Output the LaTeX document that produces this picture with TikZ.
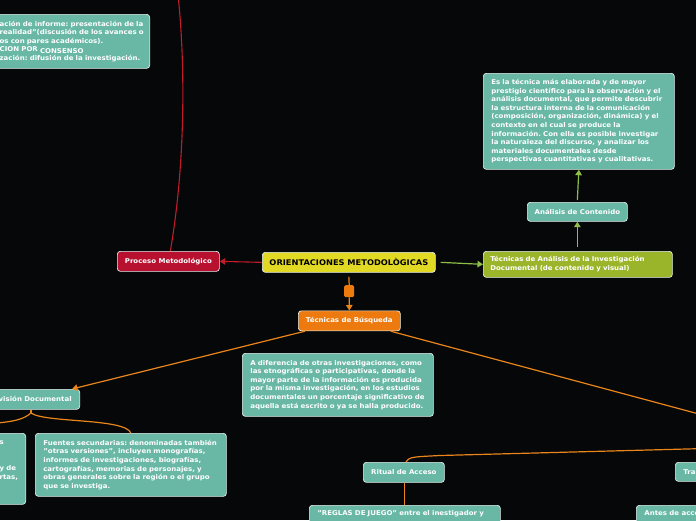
\documentclass[tikz,border=0pt]{standalone}
\usepackage{fontspec}
\setmainfont[FakeStretch=1.06]{DejaVu Sans}
\usetikzlibrary{arrows.meta}
\definecolor{bg}{HTML}{060709}
\definecolor{teal1}{HTML}{69B8A6}
\definecolor{bline}{HTML}{E4EFEC}
\definecolor{crimson}{HTML}{B8102F}
\definecolor{yellow1}{HTML}{E2D924}
\definecolor{olive}{HTML}{9BB52B}
\definecolor{orangebox}{HTML}{EC7A0F}
\definecolor{oline}{HTML}{E9851A}
\definecolor{gline}{HTML}{8DBF48}
\definecolor{rline}{HTML}{C11B2C}
\newcommand\fs{\fontsize{6.6}{8.6}\selectfont\bfseries\frenchspacing}
\newcommand\fb{\fontsize{7.8}{9}\selectfont\bfseries\frenchspacing}
\begin{document}
\begin{tikzpicture}[x=1pt,y=-1pt,
  box/.style={draw=bline, line width=0.7pt, rounded corners=3pt, fill=teal1,
    text=white, font=\fs, inner sep=0pt, anchor=north west, align=left},
  tipa/.style={-{Triangle[width=6.5pt,length=5.5pt]}},
  ol/.style={draw=oline, line width=1.2pt},
  gl/.style={draw=gline, line width=1.2pt},
  rl/.style={draw=rline, line width=1.1pt}]
\useasboundingbox (0,0) rectangle (696,520);
\fill[bg] (0,0) rectangle (696,520);
\clip (0,0) rectangle (696,520);

% off-canvas coordinates
\coordinate (offR) at (900,468);
\coordinate (offR2) at (800,446);
\coordinate (offL) at (-60,428);
\coordinate (offT) at (178,-5);
\coordinate (jr) at (31,413);

% nodes
\node[box, anchor=north east, minimum width=154, minimum height=54, text width=146] (pres) at (150,14)
 {ación de informe: presentación de la\\
  realidad"(discusión de los avances o\\
  os con pares académicos).\\
  CION POR \raisebox{-1.5pt}{CONSENSO}\\
  zación: difusión de la investigación.};

\node[box, minimum width=191, minimum height=96, text width=175] (cont) at (483,73)
 {Es la técnica más elaborada y de mayor\\
  prestigio científico para la observación y el\\
  análisis documental, que permite descubrir\\
  la estructura interna de la comunicación\\
  (composición, organización, dinámica) y el\\
  contexto en el cual se produce la\\
  información. Con ella es posible investigar\\
  la naturaleza del discurso, y analizar los\\
  materiales documentales desde\\
  perspectivas cuantitativas y cualitativas.};

\node[box, minimum width=100, minimum height=19, align=center] (adc) at (527,202) {Análisis de Contenido};

\node[box, fill=olive, minimum width=189, minimum height=26, text width=175] (tad) at (483,251)
 {Técnicas de Análisis de la Investigación\\ Documental (de contenido y visual)};

\node[box, fill=yellow1, text=black, font=\fb, minimum width=173, minimum height=20, align=center] (ori) at (262,252) {ORIENTACIONES METODOLÒGICAS};

\node[box, fill=crimson, minimum width=102, minimum height=20, align=center] (pro) at (117,251) {Proceso Metodológico};

\node[fill=orangebox, rounded corners=1.5pt, minimum width=10, minimum height=12, inner sep=0pt, anchor=north west] (knob) at (344,285) {};

\node[box, fill=orangebox, minimum width=102, minimum height=20, align=center] (tdb) at (298,310.5) {Técnicas de Búsqueda};

\node[box, minimum width=191, minimum height=63, text width=175] (dif) at (242,353)
 {A diferencia de otras investigaciones, como\\
  las etnográficas o participativas, donde la\\
  mayor parte de la información es producida\\
  por la misma investigación, en los estudios\\
  documentales un porcentaje significativo de\\
  aquella está escrito o ya se halla producido.};

\node[box, anchor=north east, inner xsep=8pt, minimum height=20] (rev) at (80,389) {visión Documental};

\node[box, anchor=north east, minimum width=30, minimum height=71, text width=22] (lbox) at (26,433)
 {s\\ \mbox{}\\ \mbox{}\\ y de\\ rtas,\\ \mbox{}\\ \mbox{}};

\node[box, minimum width=191, minimum height=63, text width=175] (fue) at (35,433)
 {Fuentes secundarias: denominadas también\\
  "otras versiones", incluyen monografías,\\
  informes de investigaciones, biografías,\\
  cartografías, memorias de personajes, y\\
  obras generales sobre la región o el grupo\\
  que se investiga.};

\node[box, minimum width=81, minimum height=20, align=center] (rit) at (363,462) {Ritual de Acceso};
\node[box, inner xsep=8pt, minimum height=19] (tra) at (675,462) {Tra};
\node[box, text width=175, inner xsep=8pt, inner ysep=5pt, text height=5pt, text depth=14pt] (reg) at (309,505) {"REGLAS DE JUEGO" entre el inestigador y};
\node[box, inner xsep=8pt, inner ysep=5pt, text height=5pt, text depth=14pt] (ant) at (636,505) {Antes de acce};

% connectors
\draw[rl, tipa] (ori.west) -- (pro.east);
\draw[rl] ([xshift=2pt]pro.north) .. controls (186,160) and (185,60) .. (offT);
\draw[gl, tipa] ([xshift=5pt]ori.east) -- (tad.west);
\draw[gl, tipa] ([yshift=4pt]tad.north -| adc.south) -- (adc.south);
\draw[gl, tipa] ([yshift=2pt]adc.north) -- (cont.south);
\draw[ol] ([yshift=-4pt]ori.south) -- (knob.north);
\draw[ol, tipa] (knob.south) -- (tdb.north);
\draw[ol, tipa] ([xshift=7pt]tdb.south west) -- ([xshift=-8pt]rev.north east);
\draw[ol] ([xshift=-10pt]tdb.south east) -- (offR);
\draw[ol] (rev.south -| jr) -- (jr);
\draw[ol] (jr) .. controls (45,423) and (125,418) .. (fue.north);
\draw[ol] (jr) .. controls (18,424) and (0,422) .. (offL);
\draw[ol] ([xshift=2pt]rit.north) .. controls (410,457) .. (440,455.5) -- (offR2);
\draw[ol] (rit.south -| reg.north) -- (reg.north);
\end{tikzpicture}
\end{document}
